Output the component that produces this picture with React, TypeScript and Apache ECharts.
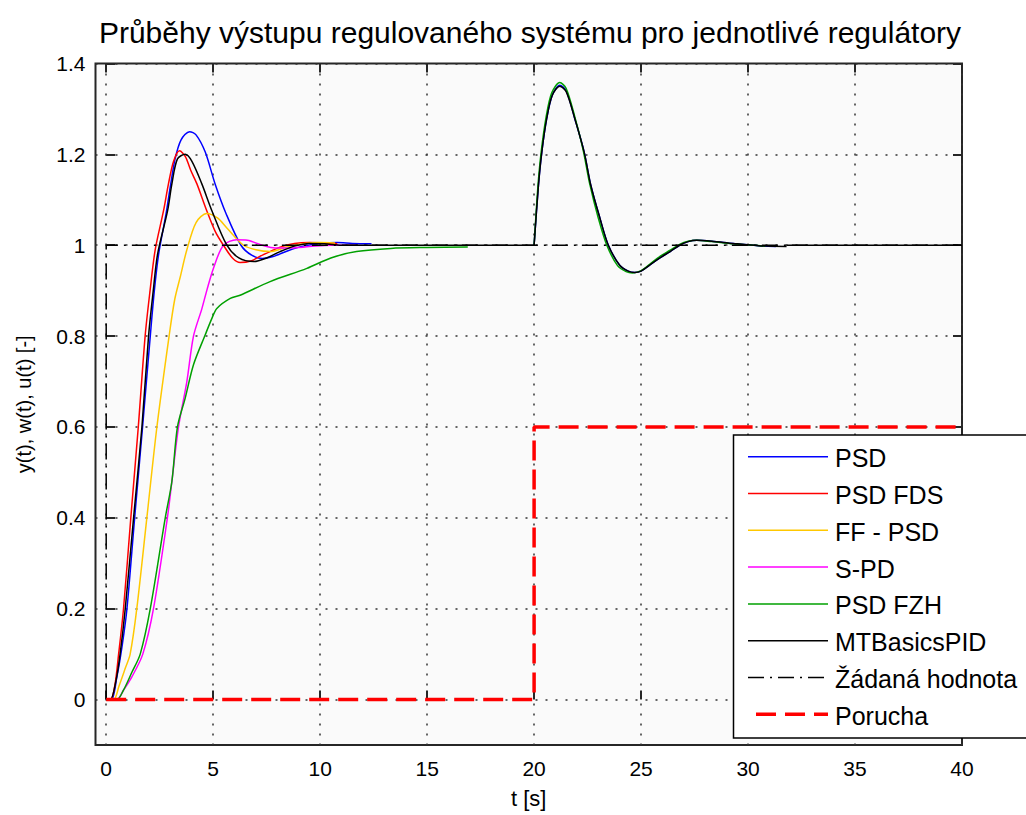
import React, { useEffect, useRef } from "react";
import * as echarts from "echarts";

// ---------- data ----------
const xTicks = [0, 5, 10, 15, 20, 25, 30, 35, 40];
const yTicks = [0, 0.2, 0.4, 0.6, 0.8, 1, 1.2, 1.4];

const psdStep: [number, number][] = [
  [0, 0], [0.25, 0], [0.5, 0.05], [0.75, 0.12], [0.97, 0.2], [1.33, 0.4], [1.7, 0.6], [2.06, 0.8],
  [2.25, 0.9], [2.45, 0.98], [2.8, 1.07], [3.0, 1.13], [3.22, 1.19], [3.5, 1.232], [3.9, 1.25],
  [4.2, 1.243], [4.63, 1.205], [5.09, 1.135], [5.6, 1.07], [6.3, 1.0], [6.8, 0.978], [7.3, 0.971],
  [7.8, 0.975], [8.5, 0.988], [9.2, 0.998], [10, 1.004], [10.8, 1.006], [11.5, 1.004], [12.4, 1.003],
];
const bump: [number, number][] = [
  [20, 1.0], [20.2, 1.13], [20.36, 1.205], [20.59, 1.279], [20.85, 1.33], [21.2, 1.352],
  [21.5, 1.34], [21.9, 1.279], [22.34, 1.205], [22.65, 1.132], [23.08, 1.059], [23.47, 1.0],
  [24.0, 0.956], [24.4, 0.943], [24.7, 0.94], [25.0, 0.943], [25.4, 0.956], [25.9, 0.973],
  [26.36, 0.986], [26.8, 1.0], [27.2, 1.008], [27.6, 1.011], [28.3, 1.009], [29.3, 1.004],
  [30.5, 0.999], [31.3, 0.997],
];
const fzhBump: [number, number][] = [
  [20, 1.0], [20.18, 1.13], [20.33, 1.205], [20.56, 1.282], [20.82, 1.335], [21.2, 1.358],
  [21.5, 1.345], [21.9, 1.283], [22.3, 1.208], [22.6, 1.135], [23.0, 1.06], [23.4, 1.0],
  [23.9, 0.955], [24.3, 0.942], [24.6, 0.939], [25.0, 0.944], [25.4, 0.958], [25.9, 0.976],
  [26.36, 0.989], [26.8, 1.002], [27.2, 1.009], [27.6, 1.011], [28.3, 1.008], [29.3, 1.003],
  [30.8, 0.998],
];
const mtbBump: [number, number][] = [
  [20, 1.0], [20.2, 1.13], [20.36, 1.205], [20.59, 1.279], [20.85, 1.33], [21.2, 1.35],
  [21.5, 1.338], [21.9, 1.279], [22.34, 1.205], [22.65, 1.132], [23.08, 1.059], [23.47, 1.0],
  [24.0, 0.956], [24.4, 0.943], [24.7, 0.94], [25.0, 0.943], [25.4, 0.956], [25.9, 0.973],
  [26.36, 0.986], [26.8, 1.0], [27.2, 1.008], [27.6, 1.011], [28.3, 1.009], [29.3, 1.004],
  [30.5, 0.999], [31.8, 0.997],
];
const fdsStep: [number, number][] = [
  [0, 0], [0.2, 0], [0.4, 0.03], [0.58, 0.1], [0.81, 0.2], [1.15, 0.4], [1.5, 0.6], [1.82, 0.8],
  [2.05, 0.9], [2.29, 0.99], [2.68, 1.076], [2.91, 1.135], [3.15, 1.185], [3.43, 1.208],
  [3.7, 1.195], [3.95, 1.165], [4.24, 1.135], [4.7, 1.076], [5.1, 1.03], [5.48, 1.0],
  [5.9, 0.972], [6.26, 0.962], [6.8, 0.966], [7.2, 0.976], [7.66, 0.986], [8.2, 0.997],
  [8.8, 1.004], [9.5, 1.006], [10.2, 1.005], [10.8, 1.003],
];
const ffStep: [number, number][] = [
  [0, 0], [0.35, 0], [0.6, 0.03], [0.9, 0.07], [1.12, 0.1], [1.43, 0.2], [1.9, 0.4], [2.37, 0.6],
  [2.94, 0.8], [3.2, 0.88], [3.46, 0.93], [3.77, 0.99], [4.2, 1.05], [4.7, 1.07], [5.2, 1.06],
  [5.64, 1.038], [6.42, 1.0], [7.0, 0.99], [7.66, 0.986], [8.5, 0.997], [9.3, 1.004],
  [10.0, 1.006], [10.7, 1.005],
];
const spdStep: [number, number][] = [
  [0, 0], [0.5, 0], [0.8, 0.02], [1.2, 0.05], [1.71, 0.1], [2.21, 0.2], [2.86, 0.4], [3.07, 0.48],
  [3.38, 0.6], [3.77, 0.7], [4.08, 0.8], [4.47, 0.86], [4.7, 0.9], [5.01, 0.949], [5.48, 1.0],
  [6.1, 1.012], [6.6, 1.011], [7.3, 1.0], [7.9, 0.994], [8.6, 0.994], [9.5, 0.997],
  [10.5, 1.0], [11.7, 1.0],
];
const fzhStep: [number, number][] = [
  [0, 0], [0.5, 0], [0.8, 0.02], [1.2, 0.06], [1.59, 0.1], [2.06, 0.2], [2.76, 0.4], [3.07, 0.48],
  [3.33, 0.6], [3.69, 0.663], [4.08, 0.737], [4.63, 0.803], [4.94, 0.839], [5.17, 0.861],
  [5.8, 0.883], [6.26, 0.89], [7.66, 0.92], [9.38, 0.949], [10.5, 0.972], [11.7, 0.986],
  [13.3, 0.993], [15, 0.995], [16.9, 0.996],
];
const mtbStep: [number, number][] = [
  [0, 0], [0.2, 0], [0.45, 0.04], [0.65, 0.1], [0.89, 0.2], [1.28, 0.4], [1.67, 0.6], [1.98, 0.8],
  [2.2, 0.9], [2.4, 0.98], [2.87, 1.076], [3.07, 1.135], [3.33, 1.19], [3.69, 1.2], [4.0, 1.185],
  [4.47, 1.135], [4.94, 1.076], [5.64, 1.0], [6.2, 0.972], [6.9, 0.964], [7.5, 0.972],
  [8.13, 0.986], [8.8, 0.998], [9.5, 1.004], [10.2, 1.003], [11, 1.0], [20, 1.0],
];
const mtbTail: [number, number][] = [[31.8, 1.0], [40, 1.0]];
const setpoint: [number, number][] = [[0, 0], [0, 1], [40, 1]];
const disturbance: [number, number][] = [[0, 0], [20, 0], [20, 0.6], [40, 0.6]];

const legendNames = [
  "PSD", "PSD FDS", "FF - PSD", "S-PD", "PSD FZH", "MTBasicsPID", "Žádaná hodnota", "Porucha",
];
const colors = ["#0000ff", "#ff0000", "#ffc800", "#ff00ff", "#00a000", "#000000", "#000000", "#ff0000"];

const FONT = "'Liberation Sans', Arial, Helvetica, sans-serif";

export default function App() {
  const ref = useRef<HTMLDivElement>(null);
  useEffect(() => {
    if (!ref.current) return;
    const chart = echarts.init(ref.current, undefined, { renderer: "svg" });

    const line = (name: string, data: [number, number][], color: string, extra: any = {}) => ({
      type: "line",
      name,
      xAxisIndex: 0,
      yAxisIndex: 0,
      data,
      showSymbol: false,
      symbol: "none",
      smooth: extra.smooth !== undefined ? extra.smooth : 0.3,
      clip: true,
      lineStyle: { color, width: 1.5, ...(extra.lineStyle || {}) },
      itemStyle: { color },
      z: extra.z ?? 3,
    });

    const dashDot = [16, 6, 2, 6];
    const legendTop = 435;
    const rowGap = 36.8;
    const firstRow = 456.7;
    const legendGraphics: any[] = [
      {
        type: "rect",
        shape: { x: 733.5, y: legendTop, width: 320, height: 303 },
        style: { fill: "#ffffff", stroke: "#000000", lineWidth: 1.5 },
        z: 100,
      },
    ];
    legendNames.forEach((n, i) => {
      const y = firstRow + i * rowGap;
      const isDist = i === 7;
      const isSet = i === 6;
      legendGraphics.push({
        type: "line",
        shape: { x1: isDist ? 756 : 748, y1: y, x2: 828, y2: y },
        style: {
          stroke: colors[i],
          lineWidth: isDist ? 3.5 : 1.5,
          lineDash: isDist ? [20, 9] : isSet ? dashDot : undefined,
        },
        z: 101,
      });
      legendGraphics.push({
        type: "text",
        x: 835,
        y: y + 1.5,
        style: {
          text: n,
          fill: "#000",
          font: `25px ${FONT}`,
          textVerticalAlign: "middle",
          verticalAlign: "middle",
        },
        z: 101,
      });
    });

    const tickStyle = { color: "#262626", width: 2 };
    const gridLine = { type: [2, 8], color: "#333333", width: 1.5 };
    const gridBase = { right: 64, top: 63.5, outerBoundsMode: "none", containLabel: false };

    chart.setOption({
      animation: false,
      backgroundColor: "#ffffff",
      textStyle: { fontFamily: FONT },
      title: {
        text: "Průběhy výstupu regulovaného systému pro jednotlivé regulátory",
        left: 525,
        top: 12,
        textAlign: "center",
        textStyle: { fontSize: 30, fontWeight: "normal", color: "#000", fontFamily: FONT },
      },
      grid: [
        { ...gridBase, left: 95.5, bottom: 70, show: true, backgroundColor: "#fafafa", borderColor: "#262626", borderWidth: 2 },
        { ...gridBase, left: 106.2, bottom: 70 },
        { ...gridBase, left: 95.5, bottom: 115.43 },
      ],
      xAxis: [
        {
          gridIndex: 0, type: "value", min: -0.5, max: 40,
          axisLine: { show: false }, axisTick: { show: false }, axisLabel: { show: false }, splitLine: { show: false },
          name: "t [s]", nameLocation: "middle", nameGap: 42,
          nameTextStyle: { fontSize: 22, color: "#000", fontFamily: FONT },
        },
        {
          gridIndex: 1, type: "value", min: xTicks[0], max: xTicks[xTicks.length - 1], interval: 5, position: "bottom", z: 1,
          axisLine: { show: false },
          axisTick: { show: true, inside: true, length: 9, lineStyle: tickStyle },
          axisLabel: { show: true, fontSize: 21, color: "#000", margin: 13, fontFamily: FONT },
          splitLine: { show: true, lineStyle: gridLine },
        },
        {
          gridIndex: 1, type: "value", min: xTicks[0], max: xTicks[xTicks.length - 1], interval: 5, position: "top", z: 1,
          axisLine: { show: false },
          axisTick: { show: true, inside: true, length: 9, lineStyle: tickStyle },
          axisLabel: { show: false }, splitLine: { show: false },
        },
        { gridIndex: 2, type: "value", min: -0.5, max: 40, show: false },
      ],
      yAxis: [
        {
          gridIndex: 0, type: "value", min: -0.1, max: 1.4,
          axisLine: { show: false }, axisTick: { show: false }, axisLabel: { show: false }, splitLine: { show: false },
          name: "y(t), w(t), u(t) [-]", nameLocation: "middle", nameGap: 62,
          nameTextStyle: { fontSize: 20, color: "#000", fontFamily: FONT },
        },
        { gridIndex: 1, type: "value", min: -0.1, max: 1.4, show: false },
        {
          gridIndex: 2, type: "value", min: yTicks[0], max: yTicks[yTicks.length - 1], interval: 0.2, position: "left", z: 1,
          axisLine: { show: false },
          axisTick: { show: true, inside: true, length: 9, lineStyle: tickStyle },
          axisLabel: {
            show: true, fontSize: 21, color: "#000", margin: 10, fontFamily: FONT,
            formatter: (v: number) => String(Number(v.toFixed(1))),
          },
          splitLine: { show: true, lineStyle: gridLine },
        },
        {
          gridIndex: 2, type: "value", min: yTicks[0], max: yTicks[yTicks.length - 1], interval: 0.2, position: "right", z: 1,
          axisLine: { show: false },
          axisTick: { show: true, inside: true, length: 9, lineStyle: tickStyle },
          axisLabel: { show: false }, splitLine: { show: false },
        },
      ],
      legend: { show: false },
      series: [
        line("PSD", psdStep, colors[0]),
        line("PSD", bump, colors[0]),
        line("PSD FDS", fdsStep, colors[1]),
        line("FF - PSD", ffStep, colors[2]),
        line("S-PD", spdStep, colors[3]),
        line("PSD FZH", fzhStep, colors[4]),
        line("PSD FZH", fzhBump, colors[4]),
        line("MTBasicsPID", mtbStep, colors[5]),
        line("MTBasicsPID", mtbBump, colors[5]),
        line("MTBasicsPID", mtbTail, colors[5], { smooth: false }),
        line("Žádaná hodnota", setpoint, colors[6], { smooth: false, lineStyle: { type: dashDot } }),
        line("Porucha", disturbance, colors[7], { smooth: false, lineStyle: { type: [20, 9], width: 3.5 }, z: 4 }),
      ],
      graphic: legendGraphics,
    });
    return () => chart.dispose();
  }, []);

  return (
    <div
      ref={ref}
      style={{ position: "fixed", left: 0, top: 0, width: 1026, height: 815, background: "#fff" }}
    />
  );
}
